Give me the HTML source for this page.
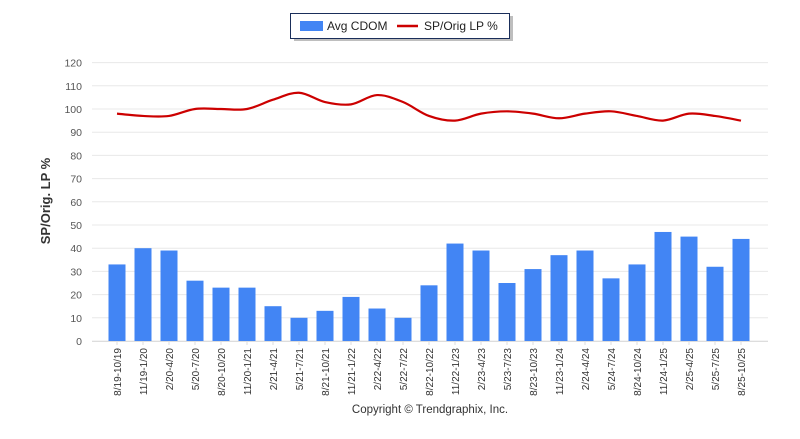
<!DOCTYPE html>
<html><head><meta charset="utf-8"><style>
body{margin:0;background:#fff;width:800px;height:434px;overflow:hidden}
svg{font-family:"Liberation Sans",sans-serif}
</style></head><body>
<svg id="chart" width="800" height="434">
<g id="grid"></g>
<g id="yt"></g>
<g id="bars"></g>
<g id="line"></g>
<g id="xl"></g>
<text x="50" y="201" transform="rotate(-90 50 201)" text-anchor="middle" font-size="13" font-weight="bold" fill="#333">SP/Orig. LP %</text>
<g>
<rect x="292" y="14" width="219" height="25" fill="#444" opacity="0.35" transform="translate(2,2)"/>
<rect x="290.5" y="13.5" width="219" height="25" fill="#fff" stroke="#1a2e5a" stroke-width="1"/>
<rect x="300" y="21" width="23" height="10" fill="#4285f4"/>
<text x="327" y="30" font-size="12" fill="#222">Avg CDOM</text>
<line x1="397" y1="26" x2="418" y2="26" stroke="#cc0000" stroke-width="2.5"/>
<text x="424" y="30" font-size="12" fill="#222">SP/Orig LP %</text>
</g>
<text x="430" y="413" text-anchor="middle" font-size="11.5" fill="#333">Copyright © Trendgraphix, Inc.</text>
</svg>
<script>
const categories=["8/19-10/19","11/19-1/20","2/20-4/20","5/20-7/20","8/20-10/20","11/20-1/21","2/21-4/21","5/21-7/21","8/21-10/21","11/21-1/22","2/22-4/22","5/22-7/22","8/22-10/22","11/22-1/23","2/23-4/23","5/23-7/23","8/23-10/23","11/23-1/24","2/24-4/24","5/24-7/24","8/24-10/24","11/24-1/25","2/25-4/25","5/25-7/25","8/25-10/25"];
const cdom=[33,40,39,26,23,23,15,10,13,19,14,10,24,42,39,25,31,37,39,27,33,47,45,32,44];
const lpPct=[98,97,97,100,100,100,104,107,103,102,106,103,97,95,98,99,98,96,98,99,97,95,98,97,95];
const yTicks=[0,10,20,30,40,50,60,70,80,90,100,110,120];
const NS="http://www.w3.org/2000/svg";
const GL=92,GR=768;
const L=104,R=754,T=62.6,B=341;
const band=(R-L)/categories.length;
const x=i=>L+band*(i+0.5);
const y=v=>B-(v/120)*(B-T);
function mk(t,a,p){const e=document.createElementNS(NS,t);for(const k in a)e.setAttribute(k,a[k]);p.appendChild(e);return e;}
const g=document.getElementById('grid'),yt=document.getElementById('yt');
yTicks.forEach(v=>{
 const l=mk('line',{x1:GL,x2:GR,y1:y(v),y2:y(v),stroke:'#e8e8e8','stroke-width':1},g);
 
 
 const t=mk('text',{x:82,y:y(v)+4,'text-anchor':'end','font-size':'10.5',fill:'#555'},yt);
 t.textContent=v;
 
 
});
mk('line',{x1:GL,x2:GR,y1:B+0.5,y2:B+0.5,stroke:'#ddd'},g);
const bg=document.getElementById('bars'),xl=document.getElementById('xl');
categories.forEach((c,i)=>{
 const r=mk('rect',{x:x(i)-8.5,y:y(cdom[i]),width:17,height:B-y(cdom[i]),fill:'#4285f4'},bg);
 
 
 mk('line',{x1:x(i),x2:x(i),y1:B,y2:B+4,stroke:'#ddd'},g);
 const t=mk('text',{transform:`translate(${x(i)+4},348) rotate(-90)`,'text-anchor':'end','font-size':'10',fill:'#333'},xl);
 t.textContent=c;
 
 
});
const pts=lpPct.map((v,i)=>[x(i),y(v)]);
let d=`M${pts[0][0]},${pts[0][1]}`;
for(let i=0;i<pts.length-1;i++){
 const p0=pts[Math.max(0,i-1)],p1=pts[i],p2=pts[i+1],p3=pts[Math.min(pts.length-1,i+2)];
 const k=1/6;
 d+=` C${p1[0]+(p2[0]-p0[0])*k},${p1[1]+(p2[1]-p0[1])*k} ${p2[0]-(p3[0]-p1[0])*k},${p2[1]-(p3[1]-p1[1])*k} ${p2[0]},${p2[1]}`;
}
const path=mk('path',{d:d,fill:'none',stroke:'#cc0000','stroke-width':2.2},document.getElementById('line'));


</script>
</body></html>
